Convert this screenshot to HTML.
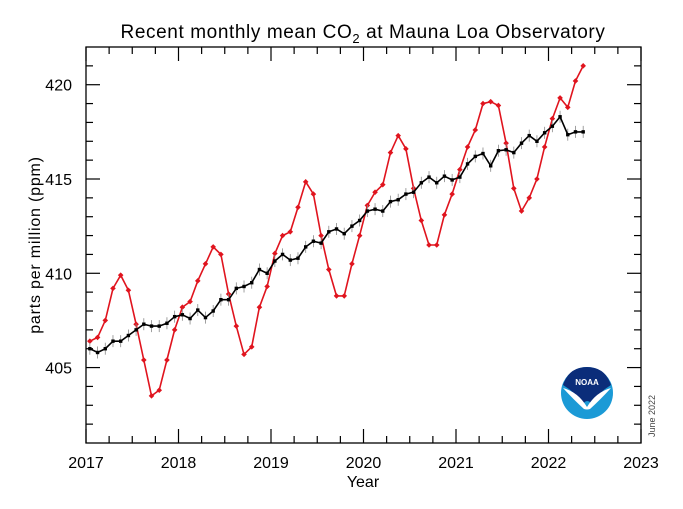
<!DOCTYPE html>
<html><head><meta charset="utf-8"><style>
html,body{margin:0;padding:0;background:#fff;}
svg{display:block;font-family:"Liberation Sans",sans-serif;}
</style></head><body>
<svg id="chart" width="683" height="509" viewBox="0 0 683 509" xmlns="http://www.w3.org/2000/svg">
<rect x="0" y="0" width="683" height="509" fill="#fff"/>
<text x="363" y="38" text-anchor="middle" font-size="19" letter-spacing="0.6" fill="#000">Recent monthly mean CO<tspan font-size="13" dy="5">2</tspan><tspan dy="-5"> at Mauna Loa Observatory</tspan></text>
<g id="axes"></g>
<g id="series"></g>
<text x="363" y="487" text-anchor="middle" font-size="16">Year</text>
<text transform="translate(40,245) rotate(-90)" text-anchor="middle" font-size="16" letter-spacing="0.8">parts per million (ppm)</text>
<text transform="translate(655,437) rotate(-90)" font-size="9" fill="#444">June 2022</text>
<g>
<circle cx="587" cy="393" r="26" fill="#1b9ad6"/>
<path d="M563,385 Q569,367 587,367 Q605,367 611,385 Q599,392 592,404 Q587,398 583,404 Q575,392 563,385 Z" fill="#0b2d7a"/>
<path d="M563,388 Q578,392 587,407 Q596,392 611,388 Q600,400 590,409 Q587,410 584,409 Q574,400 563,388 Z" fill="#fff"/>
<text x="587" y="385" text-anchor="middle" font-size="8" font-weight="bold" fill="#fff">NOAA</text>
</g>
</svg>
<script>
const years=['2017','2018','2019','2020','2021','2022','2023'];
const yTicks=[405,410,415,420];
const monthly=[406.4,406.6,407.5,409.2,409.9,409.1,407.3,405.4,403.5,403.8,405.4,407.0,
408.2,408.5,409.6,410.5,411.4,411.0,408.9,407.2,405.7,406.1,408.2,409.3,
411.05,412.0,412.2,413.5,414.85,414.2,412.0,410.2,408.8,408.8,410.5,412.0,
413.6,414.3,414.7,416.4,417.3,416.6,414.5,412.8,411.5,411.5,413.1,414.2,
415.5,416.7,417.6,419.0,419.1,418.9,416.9,414.5,413.3,414.0,415.0,416.7,
418.2,419.3,418.8,420.2,421.0];
const trend=[406.0,405.8,406.0,406.4,406.4,406.7,407.0,407.3,407.2,407.2,407.35,407.7,
407.8,407.6,408.05,407.65,408.0,408.6,408.6,409.2,409.3,409.5,410.2,410.0,
410.65,411.0,410.7,410.8,411.4,411.7,411.6,412.2,412.35,412.1,412.5,412.8,
413.3,413.4,413.3,413.8,413.9,414.2,414.3,414.8,415.1,414.8,415.15,414.95,
415.1,415.8,416.2,416.35,415.7,416.5,416.55,416.4,416.9,417.3,417.0,417.45,
417.8,418.3,417.35,417.5,417.5];
const X0=86,X1=641,Y0=47,Y1=443,xmin=2017,xmax=2023,ymin=401,ymax=422;
const ns='http://www.w3.org/2000/svg';
function sx(t){return X0+(t-xmin)/(xmax-xmin)*(X1-X0);}
function sy(v){return Y1-(v-ymin)/(ymax-ymin)*(Y1-Y0);}
function mk(tag,attrs,parent){const e=document.createElementNS(ns,tag);for(const k in attrs)e.setAttribute(k,attrs[k]);parent.appendChild(e);return e;}
const axes=document.getElementById('axes');
const frame=mk('rect',{x:X0,y:Y0,width:X1-X0,height:Y1-Y0,fill:'none',stroke:'#000','stroke-width':1.3},axes);


for(let q=0;q<=24;q++){const t=xmin+q/4;const x=sx(t);const L=q%4===0?14:7;
 mk('line',{x1:x,y1:Y1,x2:x,y2:Y1-L,stroke:'#000','stroke-width':1.2},axes);
 mk('line',{x1:x,y1:Y0,x2:x,y2:Y0+L,stroke:'#000','stroke-width':1.2},axes);}
for(let v=402;v<=421;v++){const y=sy(v);const L=v%5===0?14:7;
 mk('line',{x1:X0,y1:y,x2:X0+L,y2:y,stroke:'#000','stroke-width':1.2},axes);
 mk('line',{x1:X1,y1:y,x2:X1-L,y2:y,stroke:'#000','stroke-width':1.2},axes);}
years.forEach((s,i)=>{const t=mk('text',{x:sx(xmin+i),y:468,'text-anchor':'middle','font-size':16},axes);t.textContent=s;
 
 });
yTicks.forEach(v=>{const t=mk('text',{x:72,y:sy(v)+6,'text-anchor':'end','font-size':16},axes);t.textContent=v;
 
 });
const g=document.getElementById('series');
function tm(i){return xmin+(i+0.5)/12;}
const rp=monthly.map((v,i)=>sx(tm(i)).toFixed(1)+','+sy(v).toFixed(1)).join(' ');
const rl=mk('polyline',{points:rp,fill:'none',stroke:'#e0141e','stroke-width':1.6},g);


monthly.forEach((v,i)=>{const x=sx(tm(i)),y=sy(v);
 const d=mk('path',{d:`M${x},${y-2.8}L${x+2.8},${y}L${x},${y+2.8}L${x-2.8},${y}Z`,fill:'#e0141e'},g);
 
 });
trend.forEach((v,i)=>{const x=sx(tm(i)),y=sy(v);
 const e=mk('line',{x1:x,y1:y-6,x2:x,y2:y+6,stroke:'#888','stroke-width':0.8},g);
 
 });
const bp=trend.map((v,i)=>sx(tm(i)).toFixed(1)+','+sy(v).toFixed(1)).join(' ');
const bl=mk('polyline',{points:bp,fill:'none',stroke:'#000','stroke-width':1.6},g);


trend.forEach((v,i)=>{const x=sx(tm(i)),y=sy(v);
 const s=mk('rect',{x:x-1.7,y:y-1.7,width:3.4,height:3.4,fill:'#000'},g);
 
 });
</script>
</body></html>
